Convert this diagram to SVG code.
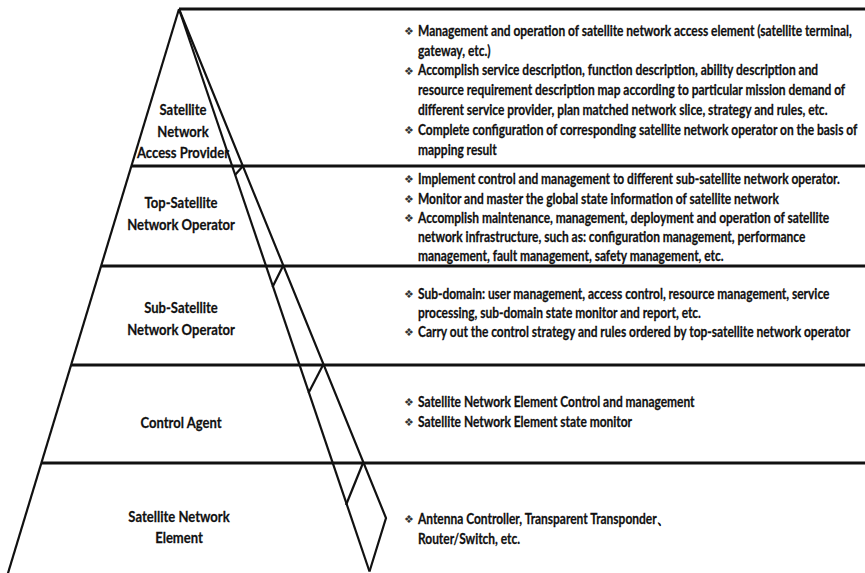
<svg xmlns="http://www.w3.org/2000/svg" width="865" height="573" viewBox="0 0 865 573">
  <style>
    .bg { fill: #ffffff; }
    .edge { fill: none; stroke: #111; stroke-width: 2.2; stroke-linejoin: miter; stroke-linecap: butt; }
    .rule { fill: none; stroke: #111; stroke-width: 3; }
    .label { font-family: "Lato", "Liberation Sans", sans-serif; font-weight: bold; font-size: 15.5px; fill: #111; stroke: #111; stroke-width: 0.25; text-anchor: middle; }
    .desc { font-family: "Lato", "Liberation Sans", sans-serif; font-weight: bold; font-size: 14.4px; fill: #111; stroke: #111; stroke-width: 0.25; }
    .bullet { font-family: "DejaVu Sans", sans-serif; font-size: 11px; fill: #333; }
  </style>

  <rect class="bg" x="0" y="0" width="865" height="573"/>

  <!-- pyramid outline, layer rules and the slanted side band -->
  <g id="connectors">
    <path class="rule" d="M179,9 H865"/>
    <path class="rule" d="M131,166 H865"/>
    <path class="rule" d="M101,266 H865"/>
    <path class="rule" d="M71,365 H865"/>
    <path class="rule" d="M41,463 H865"/>
    <path class="edge" d="M179,9 L5,583"/>
    <path class="edge" d="M179,9 L369.5,571.5"/>
    <path class="edge" d="M179,9 L386,518 L369.5,571.5"/>
    <path class="edge" d="M243,166 L235,175"/>
    <path class="edge" d="M283,266 L272.5,287"/>
    <path class="edge" d="M323,365 L308.5,393"/>
    <path class="edge" d="M363,463 L346,505"/>
  </g>

  <!-- layer 1 -->
  <g id="access-provider">
    <text class="label" transform="translate(183,115) scale(0.842,1)">Satellite</text>
    <text class="label" transform="translate(183,137) scale(0.842,1)">Network</text>
    <text class="label" transform="translate(183,158) scale(0.842,1)">Access Provider</text>
    <text class="bullet" x="404" y="35">❖</text>
    <text class="bullet" x="404" y="74.5">❖</text>
    <text class="bullet" x="404" y="134">❖</text>
    <!-- body text condensed horizontally about its left edge x=418 -->
    <g transform="matrix(0.831,0,0,1,70.64,0)">
      <text class="desc" x="418" y="36">Management and operation of satellite network access element (satellite terminal,</text>
      <text class="desc" x="418" y="56">gateway, etc.)</text>
      <text class="desc" x="418" y="75.5">Accomplish service description, function description, ability description and</text>
      <text class="desc" x="418" y="95">resource requirement description map according to particular mission demand of</text>
      <text class="desc" x="418" y="115">different service provider, plan matched network slice, strategy and rules, etc.</text>
      <text class="desc" x="418" y="135">Complete configuration of corresponding satellite network operator on the basis of</text>
      <text class="desc" x="418" y="155">mapping result</text>
    </g>
  </g>

  <!-- layer 2 -->
  <g id="top-operator">
    <text class="label" transform="translate(181,208) scale(0.842,1)">Top-Satellite</text>
    <text class="label" transform="translate(181,230) scale(0.842,1)">Network Operator</text>
    <text class="bullet" x="404" y="183">❖</text>
    <text class="bullet" x="404" y="203">❖</text>
    <text class="bullet" x="404" y="222">❖</text>
    <g transform="matrix(0.831,0,0,1,70.64,0)">
      <text class="desc" x="418" y="184">Implement control and management to different sub-satellite network operator.</text>
      <text class="desc" x="418" y="204">Monitor and master the global state information of satellite network</text>
      <text class="desc" x="418" y="223">Accomplish maintenance, management, deployment and operation of satellite</text>
      <text class="desc" x="418" y="242">network infrastructure, such as: configuration management, performance</text>
      <text class="desc" x="418" y="261">management, fault management, safety management, etc.</text>
    </g>
  </g>

  <!-- layer 3 -->
  <g id="sub-operator">
    <text class="label" transform="translate(181,313) scale(0.842,1)">Sub-Satellite</text>
    <text class="label" transform="translate(181,335) scale(0.842,1)">Network Operator</text>
    <text class="bullet" x="404" y="298">❖</text>
    <text class="bullet" x="404" y="336">❖</text>
    <g transform="matrix(0.831,0,0,1,70.64,0)">
      <text class="desc" x="418" y="299">Sub-domain: user management, access control, resource management, service</text>
      <text class="desc" x="418" y="318">processing, sub-domain state monitor and report, etc.</text>
      <text class="desc" x="418" y="337">Carry out the control strategy and rules ordered by top-satellite network operator</text>
    </g>
  </g>

  <!-- layer 4 -->
  <g id="control-agent">
    <text class="label" transform="translate(181,428) scale(0.842,1)">Control Agent</text>
    <text class="bullet" x="404" y="406">❖</text>
    <text class="bullet" x="404" y="426">❖</text>
    <g transform="matrix(0.831,0,0,1,70.64,0)">
      <text class="desc" x="418" y="407">Satellite Network Element Control and management</text>
      <text class="desc" x="418" y="427">Satellite Network Element state monitor</text>
    </g>
  </g>

  <!-- layer 5 -->
  <g id="network-element">
    <text class="label" transform="translate(179,522) scale(0.842,1)">Satellite Network</text>
    <text class="label" transform="translate(179,543) scale(0.842,1)">Element</text>
    <text class="bullet" x="404" y="523">❖</text>
    <g transform="matrix(0.831,0,0,1,70.64,0)">
      <text class="desc" x="418" y="524">Antenna Controller, Transparent Transponder、</text>
      <text class="desc" x="418" y="544">Router/Switch, etc.</text>
    </g>
  </g>
</svg>
